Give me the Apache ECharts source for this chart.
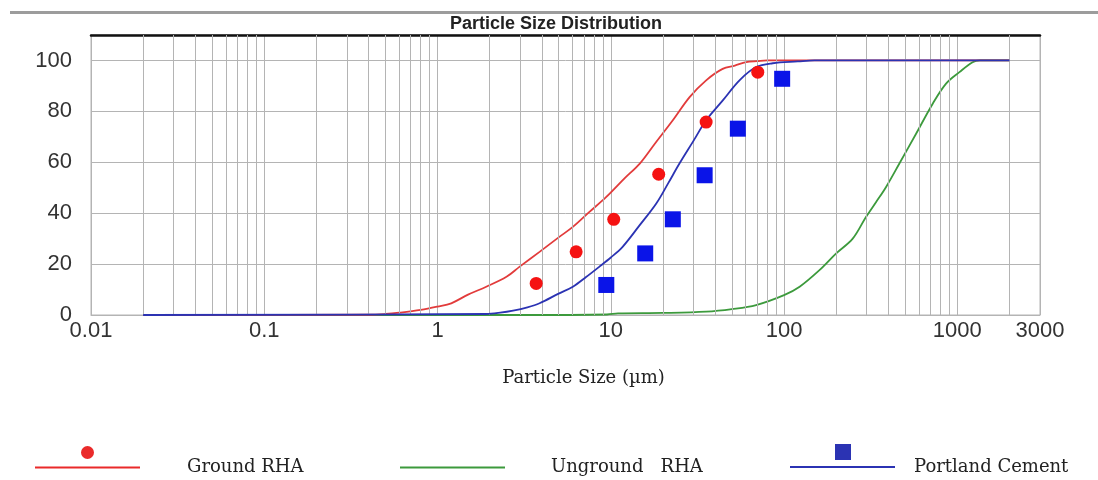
<!DOCTYPE html>
<html><head><meta charset="utf-8">
<script src="https://cdn.jsdelivr.net/npm/echarts@6/dist/echarts.min.js"></script>
<style>html,body{margin:0;padding:0;background:#fff}#c{width:1098px;height:480px}</style>
</head><body><div id="c"></div>
<script>
// ---- data ----
const groundCurveX = [0.02, 0.4, 0.5, 0.6, 0.8, 1.0, 1.2, 1.5, 1.91, 2.5, 2.98, 3.88, 5.0, 6.04, 7.5, 9.42, 12, 14.7, 18, 22.8, 28.5, 35.5, 44.2, 52, 60.4, 70, 80, 100, 2000];
const groundCurveY = [0, 0.1, 0.4, 0.9, 2.0, 3.3, 4.6, 8, 11.1, 15, 19, 24.8, 30.5, 34.6, 40.4, 46.4, 53.7, 59.5, 67.4, 76.5, 85.6, 92.2, 96.7, 98, 99.3, 99.7, 100, 100, 100];

const ungroundCurveX = [0.02, 3, 9.5, 11, 20, 35.5, 50, 69, 100, 123, 160, 200, 249, 297, 340, 388, 463, 578, 721, 861, 1028, 1225, 1350, 2000];
const ungroundCurveY = [0, 0, 0.2, 0.6, 0.8, 1.3, 2.3, 3.9, 7.8, 11.1, 17.6, 24.2, 30, 38.5, 44.4, 50.3, 59.5, 71.2, 83, 90.9, 95.4, 99.3, 100, 100];

const cementCurveX = [0.02, 1.9, 2.3, 2.73, 3.3, 3.88, 5, 6.04, 7.2, 8.6, 10, 11.7, 14.5, 18.3, 21.5, 24.9, 30, 35.5, 44.3, 55.3, 69, 86, 120, 150, 2000];
const cementCurveY = [0, 0.4, 0.9, 1.7, 3.0, 4.6, 8.4, 11.1, 14.9, 19, 22.6, 26.8, 34.8, 43.8, 51.9, 59.5, 68.4, 76.5, 84.3, 92.2, 97.4, 98.9, 99.6, 100, 100];

const groundPointsX = [3.71, 6.31, 10.4, 18.9, 35.5, 70.5];
const groundPointsY = [12.4, 24.8, 37.6, 55.3, 75.8, 95.4];

const cementPointsX = [9.42, 15.8, 22.8, 34.8, 54.1, 97.5];
const cementPointsY = [11.8, 24.2, 37.6, 54.9, 73.2, 92.8];

const seriesNames = ['Ground RHA', 'Unground   RHA', 'Portland Cement'];
const xTickMin = 0.01, xTickMax = 3000;
const yTicks = [0, 20, 40, 60, 80, 100];

// minor log grid lines (2..9 in each decade, up to the 3000 edge)
const minorGrid = [];
for (let d = 0.01; d < 2000; d *= 10) {
  for (let k = 2; k <= 9; k++) {
    const v = +(k * d).toPrecision(3);
    if (v < xTickMax) minorGrid.push(v);
  }
}

const zip = (xs, ys) => xs.map((x, i) => [x, ys[i]]);

const gridColor = '#b4b4b4';
const legendText = {fontFamily: 'DejaVu Serif', fontSize: 18, color: '#222'};
const curveSmooth = 0.35;
const chart = echarts.init(document.getElementById('c'), null, {renderer: 'canvas'});
chart.setOption({
  animation: false,
  backgroundColor: '#fff',
  title: {
    text: 'Particle Size Distribution',
    left: 450, top: 15, padding: 0,
    textStyle: {fontFamily: 'Liberation Sans', fontWeight: 'bold', fontSize: 18, color: '#222'}
  },
  graphic: [{
    type: 'rect', left: 10, top: 11, shape: {width: 1088, height: 3},
    style: {fill: '#9c9c9c'}, silent: true
  }],
  grid: {left: 91, right: 58, top: 35, bottom: 165, show: true, borderColor: gridColor, borderWidth: 1},
  legend: [
    {data: [{name: seriesNames[0], icon: 'path://M0,20.5H105V22.5H0Z M46,6.5A6.5,6.5 0 1,1 59,6.5A6.5,6.5 0 1,1 46,6.5Z M0,43',
             itemStyle: {color: '#ea2a2a'}}],
     left: 35, top: 446, itemWidth: 105, itemHeight: 43, selectedMode: false, padding: 0,
     textStyle: Object.assign({padding: [0, 0, 0, 42]}, legendText)},
    {data: [{name: seriesNames[1], icon: 'path://M0,20.5H105V22.5H0Z M0,0 M0,43'}],
     left: 400, top: 446, itemWidth: 105, itemHeight: 43, selectedMode: false, padding: 0,
     textStyle: Object.assign({padding: [0, 0, 0, 41]}, legendText)},
    {data: [{name: seriesNames[2], icon: 'path://M0,22H105V24H0Z M45,0H61V16H45Z M0,46',
             itemStyle: {color: '#2b33b3'}}],
     left: 790, top: 444, itemWidth: 105, itemHeight: 46, selectedMode: false, padding: 0,
     textStyle: Object.assign({padding: [0, 0, 0, 14]}, legendText)}
  ],
  xAxis: [{
    type: 'log', logBase: 10, min: xTickMin, max: xTickMax,
    name: 'Particle Size (µm)', nameLocation: 'middle', nameGap: 54,
    nameTextStyle: {fontFamily: 'DejaVu Serif', fontSize: 18, color: '#222', padding: [0, 0, 0, 36]},
    axisLine: {show: true, lineStyle: {color: gridColor}},
    axisTick: {show: false},
    axisLabel: {fontFamily: 'Liberation Sans', fontSize: 22, color: '#333', margin: 5,
      formatter: v => String(+(+v).toPrecision(6))},
    splitLine: {show: true, lineStyle: {color: gridColor, width: 1}}
  }, {
    type: 'log', logBase: 10, min: xTickMin, max: xTickMax, position: 'top',
    axisLine: {show: true, lineStyle: {color: '#111', width: 2.5}},
    axisTick: {show: false}, axisLabel: {show: false}, splitLine: {show: false}
  }],
  yAxis: {
    type: 'value', min: 0, max: 110, interval: 20,
    axisLine: {show: true, lineStyle: {color: gridColor}},
    axisTick: {show: false},
    axisLabel: {fontFamily: 'Liberation Sans', fontSize: 22, color: '#333', margin: 19, showMaxLabel: false,
      formatter: v => (yTicks.indexOf(v) >= 0 ? String(v) : '')},
    splitLine: {show: true, lineStyle: {color: gridColor, width: 1}}
  },
  series: [
    {
      name: '_grid', type: 'line', data: [[xTickMin, 0]], symbol: 'none', lineStyle: {width: 0}, z: 1,
      silent: true, legendHoverLink: false,
      markLine: {
        silent: true, symbol: ['none', 'none'], label: {show: false}, animation: false,
        lineStyle: {color: gridColor, width: 1, type: 'solid'},
        emphasis: {disabled: true},
        data: minorGrid.map(v => ({xAxis: v}))
      }
    },
    {name: seriesNames[1], type: 'line', data: zip(ungroundCurveX, ungroundCurveY), symbol: 'none',
     smooth: curveSmooth, color: '#3c9a3c', itemStyle: {color: '#3c9a3c'},
     lineStyle: {color: '#3c9a3c', width: 1.8}, z: 3},
    {name: seriesNames[0], type: 'line', data: zip(groundCurveX, groundCurveY), symbol: 'none',
     smooth: curveSmooth, color: '#e23b3b', itemStyle: {color: '#e23b3b'},
     lineStyle: {color: '#e23b3b', width: 1.8}, z: 4},
    {name: seriesNames[2], type: 'line', data: zip(cementCurveX, cementCurveY), symbol: 'none',
     smooth: curveSmooth, color: '#2b33b3', itemStyle: {color: '#2b33b3'},
     lineStyle: {color: '#2b33b3', width: 1.8}, z: 5},
    {name: seriesNames[0], type: 'scatter', data: zip(groundPointsX, groundPointsY),
     symbol: 'circle', symbolSize: 13, itemStyle: {color: '#f51212', opacity: 1}, z: 6},
    {name: seriesNames[2], type: 'scatter', data: zip(cementPointsX, cementPointsY),
     symbol: 'rect', symbolSize: 16, itemStyle: {color: '#0a14e8', opacity: 1}, z: 6}
  ]
});
</script>
</body></html>
